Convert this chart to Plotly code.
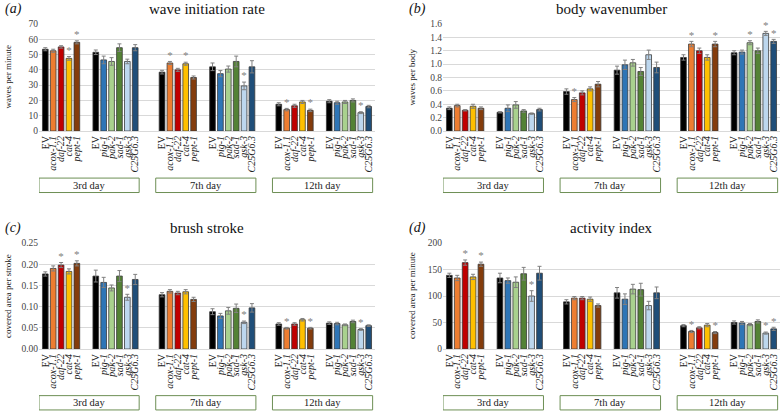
import plotly.graph_objects as go

genes_A = ["EV", "acox-1.1", "daf-22", "cat-4", "pept-1"]
genes_B = ["EV", "pig-1", "pak-2", "sad-1", "gsk-3", "C25G6.3"]
days = ["3rd day", "7th day", "12th day"]
colors_A = ["#000000", "#ED7D31", "#C00000", "#FFC000", "#843C0C"]
colors_B = ["#000000", "#2E75B6", "#A9D18E", "#548235", "#BDD7EE", "#1F4E79"]

# (a) wave initiation rate
wave_A = [[53.5, 52.5, 55, 47.5, 58], [38.5, 44.5, 40, 44, 35], [17.5, 14, 16.5, 19, 13.5]]
wave_A_err = [[1, 1, 0.8, 1.2, 1], [1.2, 1, 1, 1, 1], [1, 0.8, 1, 1, 0.8]]
wave_A_sig = [[0, 0, 0, 1, 1], [0, 1, 0, 1, 0], [0, 1, 0, 0, 1]]
wave_B = [[51.5, 46.5, 45.5, 54.5, 45.5, 54.5], [42, 37.5, 40.5, 45.5, 29.5, 42], [19.5, 18.5, 19, 20, 12, 16]]
wave_B_err = [[1.5, 2.5, 2.5, 2.5, 1.5, 2], [2.5, 2, 2, 3.5, 2.5, 4], [1, 1, 1, 1, 0.6, 0.8]]
wave_B_sig = [[0, 0, 0, 0, 0, 0], [0, 0, 0, 0, 1, 0], [0, 0, 0, 0, 1, 0]]

# (b) body wavenumber
body_A = [[0.34, 0.38, 0.31, 0.37, 0.34], [0.59, 0.47, 0.57, 0.63, 0.70], [1.10, 1.30, 1.20, 1.10, 1.30]]
body_A_err = [[0.02, 0.02, 0.01, 0.03, 0.02], [0.04, 0.03, 0.03, 0.03, 0.04], [0.04, 0.04, 0.04, 0.04, 0.04]]
body_A_sig = [[0, 0, 0, 0, 0], [0, 1, 0, 0, 0], [0, 1, 0, 0, 1]]
body_B = [[0.28, 0.34, 0.39, 0.30, 0.26, 0.32], [0.91, 0.99, 1.02, 0.89, 1.14, 0.95], [1.17, 1.18, 1.32, 1.20, 1.46, 1.34]]
body_B_err = [[0.01, 0.05, 0.05, 0.02, 0.01, 0.02], [0.06, 0.07, 0.05, 0.06, 0.07, 0.08], [0.03, 0.03, 0.03, 0.04, 0.03, 0.03]]
body_B_sig = [[0, 0, 0, 0, 0, 0], [0, 0, 0, 0, 0, 0], [0, 0, 1, 0, 1, 1]]

# (c) brush stroke
brush_A = [[0.177, 0.190, 0.198, 0.183, 0.202], [0.128, 0.136, 0.132, 0.135, 0.117], [0.059, 0.049, 0.059, 0.069, 0.049]]
brush_A_err = [[0.005, 0.006, 0.006, 0.006, 0.006], [0.005, 0.004, 0.004, 0.005, 0.005], [0.003, 0.002, 0.003, 0.003, 0.002]]
brush_A_sig = [[0, 0, 1, 0, 1], [0, 0, 0, 0, 0], [0, 1, 0, 0, 1]]
brush_B = [[0.172, 0.157, 0.144, 0.172, 0.122, 0.164], [0.088, 0.078, 0.090, 0.096, 0.063, 0.097], [0.061, 0.060, 0.057, 0.065, 0.046, 0.055]]
brush_B_err = [[0.014, 0.012, 0.007, 0.013, 0.007, 0.012], [0.007, 0.006, 0.008, 0.010, 0.003, 0.010], [0.003, 0.003, 0.002, 0.003, 0.002, 0.002]]
brush_B_sig = [[0, 0, 0, 0, 1, 0], [0, 0, 0, 0, 1, 0], [0, 0, 0, 0, 1, 0]]

# (d) activity index
act_A = [[139, 134, 163, 136, 160], [89, 96, 96, 94, 82], [44, 33, 40, 45, 31]]
act_A_err = [[4, 5, 5, 5, 4], [4, 3, 3, 4, 3], [2, 2, 2, 3, 2]]
act_A_sig = [[0, 0, 1, 0, 1], [0, 0, 0, 0, 0], [0, 1, 0, 0, 1]]
act_B = [[134, 129, 126, 142, 100, 143], [106, 94, 113, 112, 82, 106], [50, 49, 46, 52, 30, 38]]
act_B_err = [[9, 5, 10, 12, 10, 13], [10, 10, 9, 12, 8, 11], [3, 3, 2, 3, 2, 3]]
act_B_sig = [[0, 0, 0, 0, 1, 0], [0, 0, 0, 0, 0, 0], [0, 0, 0, 0, 1, 1]]

panels = [
    dict(tag="(a)", title="wave initiation rate", ylab="waves per minute",
         A=wave_A, Ae=wave_A_err, As=wave_A_sig, B=wave_B, Be=wave_B_err, Bs=wave_B_sig,
         rng=[0, 70], dtick=10, fmt=""),
    dict(tag="(b)", title="body wavenumber", ylab="waves per body",
         A=body_A, Ae=body_A_err, As=body_A_sig, B=body_B, Be=body_B_err, Bs=body_B_sig,
         rng=[0, 1.6], dtick=0.2, fmt=".1f"),
    dict(tag="(c)", title="brush stroke", ylab="covered area per stroke",
         A=brush_A, Ae=brush_A_err, As=brush_A_sig, B=brush_B, Be=brush_B_err, Bs=brush_B_sig,
         rng=[0, 0.25], dtick=0.05, fmt=".2f"),
    dict(tag="(d)", title="activity index", ylab="covered area per minute",
         A=act_A, Ae=act_A_err, As=act_A_sig, B=act_B, Be=act_B_err, Bs=act_B_sig,
         rng=[0, 200], dtick=50, fmt=""),
]

W, H = 783, 411
SERIF = "Liberation Serif, Times New Roman, serif"
DAY_STEP = 14.8
B_OFF = 6.4

# pixel layout of the four plot areas: (x0, x1, ytop, ybottom)
areas = [(39, 375, 24, 131), (443, 780, 24, 131), (39, 375, 243, 349), (443, 780, 243, 349)]

def label(g):
    return g if g == "EV" else "<i>" + g + "</i>"

fig = go.Figure()
layout = dict(width=W, height=H, margin=dict(l=0, r=0, t=0, b=0, autoexpand=False),
              paper_bgcolor="white", plot_bgcolor="white", showlegend=False,
              shapes=[], annotations=[], bargap=0)

for k, p in enumerate(panels):
    xa = "x" if k == 0 else "x%d" % (k + 1)
    ya = "y" if k == 0 else "y%d" % (k + 1)
    xs, ys, es, cs, tv, tt, sx, sy = [], [], [], [], [], [], [], []
    for d in range(3):
        off = d * DAY_STEP
        for i, g in enumerate(genes_A):
            x = off + i
            xs.append(x); ys.append(p["A"][d][i]); es.append(p["Ae"][d][i]); cs.append(colors_A[i])
            tv.append(x); tt.append(label(g))
            if p["As"][d][i]:
                sx.append(x); sy.append(p["A"][d][i] + p["Ae"][d][i])
        for j, g in enumerate(genes_B):
            x = off + B_OFF + j
            xs.append(x); ys.append(p["B"][d][j]); es.append(p["Be"][d][j]); cs.append(colors_B[j])
            tv.append(x); tt.append(label(g))
            if p["Bs"][d][j]:
                sx.append(x); sy.append(p["B"][d][j] + p["Be"][d][j])
    fig.add_trace(go.Bar(x=xs, y=ys, width=0.72, xaxis=xa, yaxis=ya, hoverinfo="skip",
                         marker=dict(color=cs, line=dict(color="#3a3a3a", width=0.8)),
                         error_y=dict(type="data", array=es, visible=True, color="#808080",
                                      thickness=1, width=2)))
    fig.add_trace(go.Scatter(x=sx, y=sy, mode="text", text=["*"] * len(sx), xaxis=xa, yaxis=ya,
                             textposition="top center", cliponaxis=False, hoverinfo="skip",
                             textfont=dict(family=SERIF, size=11, color="#808080")))
    x0, x1, yt, yb = areas[k]
    xkey = "xaxis" if k == 0 else "xaxis%d" % (k + 1)
    ykey = "yaxis" if k == 0 else "yaxis%d" % (k + 1)
    layout[xkey] = dict(domain=[x0 / W, x1 / W], anchor=ya, range=[-0.8, 2 * DAY_STEP + B_OFF + 5.8],
                        tickmode="array", tickvals=tv, ticktext=tt, tickangle=-90, automargin=False,
                        tickfont=dict(family=SERIF, size=10, color="#222222"), fixedrange=True,
                        showline=True, linecolor="#d9d9d9", ticks="", showgrid=False, zeroline=False)
    layout[ykey] = dict(domain=[1 - yb / H, 1 - yt / H], anchor=xa, range=p["rng"], dtick=p["dtick"],
                        tickformat=p["fmt"], showgrid=True, gridcolor="#d9d9d9", gridwidth=1,
                        zeroline=False, showline=False, ticks="", automargin=False, fixedrange=True,
                        tickfont=dict(family=SERIF, size=9.5, color="#444444"))
    # day boxes
    for d in range(3):
        bx0 = d * DAY_STEP - 0.8
        bx1 = d * DAY_STEP + B_OFF + 5.5
        layout["shapes"].append(dict(type="rect", xref=xa, yref=ya + " domain", x0=bx0, x1=bx1,
                                     y0=-0.44, y1=-0.575, line=dict(color="#6d8f55", width=1),
                                     fillcolor="white"))
        layout["annotations"].append(dict(text=days[d], xref=xa, yref=ya + " domain",
                                          x=(bx0 + bx1) / 2, y=-0.508, showarrow=False,
                                          xanchor="center", yanchor="middle",
                                          font=dict(family=SERIF, size=10.5, color="#222222")))
    # titles
    layout["annotations"].append(dict(text=p["title"], xref="paper", yref="paper",
                                      x=(x0 + x1) / 2 / W, y=1 - (yt - 15) / H, showarrow=False,
                                      xanchor="center", yanchor="middle",
                                      font=dict(family=SERIF, size=15, color="#111111")))
    layout["annotations"].append(dict(text="<i>" + p["tag"] + "</i>", xref="paper", yref="paper",
                                      x=(x0 - 36) / W, y=1 - (yt - 15) / H, showarrow=False,
                                      xanchor="left", yanchor="middle",
                                      font=dict(family=SERIF, size=14, color="#111111")))
    layout["annotations"].append(dict(text=p["ylab"], xref="paper", yref="paper", textangle=-90,
                                      x=(x0 - 31) / W, y=1 - ((yt + yb) / 2) / H, showarrow=False,
                                      xanchor="center", yanchor="middle",
                                      font=dict(family=SERIF, size=9, color="#222222")))

fig.update_layout(**layout)
fig.write_html("out.html", config={"displayModeBar": False, "staticPlot": True},
               post_script="document.body.style.margin='0';document.body.style.padding='0';")
